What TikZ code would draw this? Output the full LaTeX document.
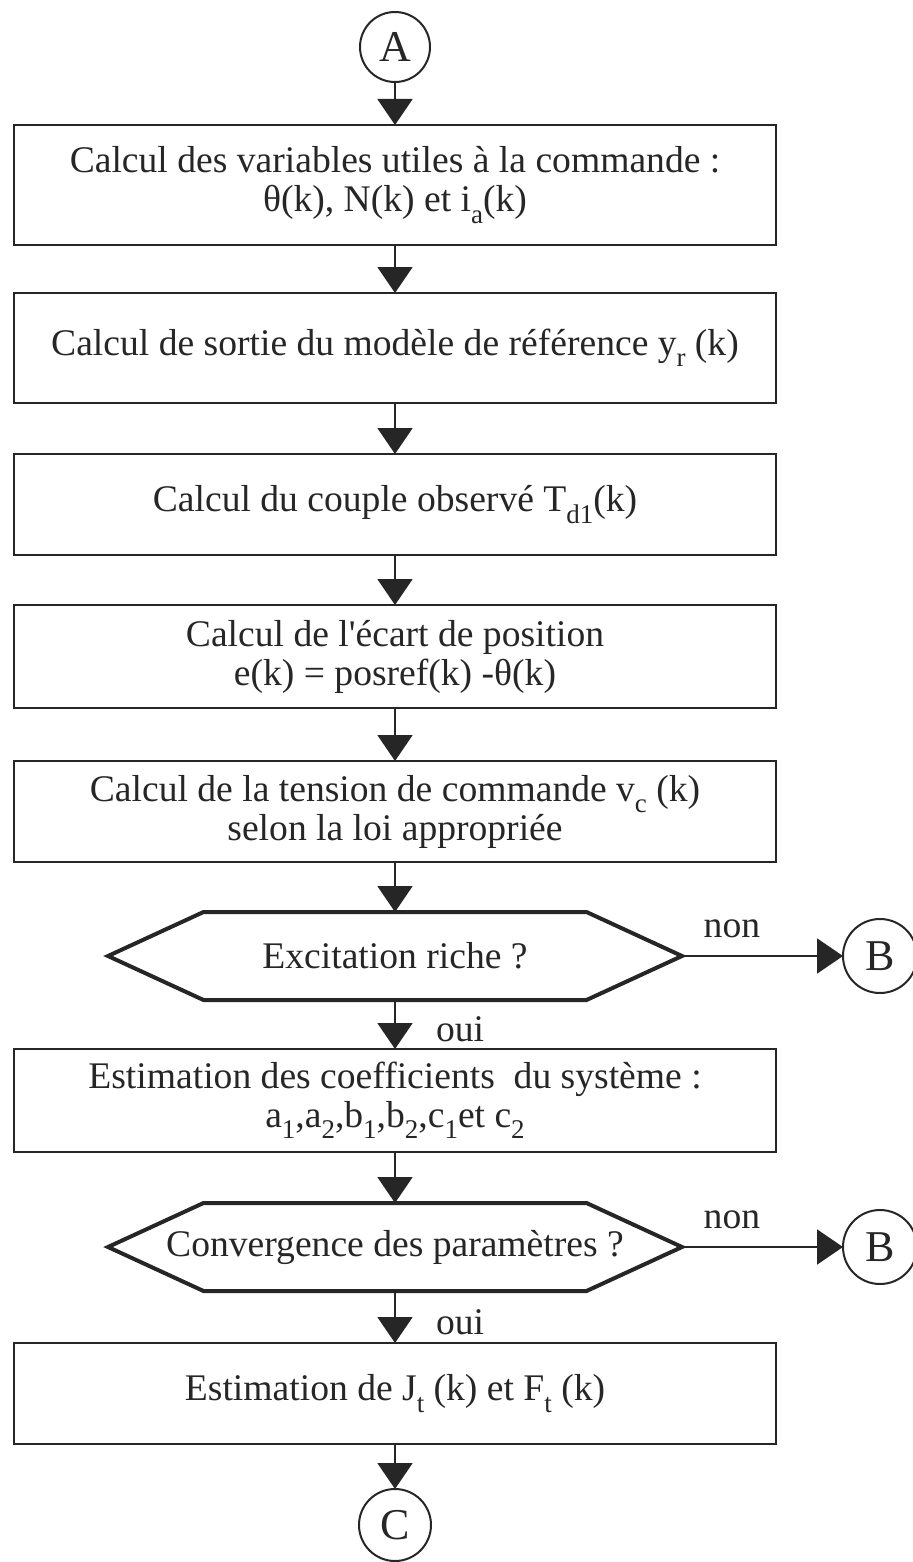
\documentclass[tikz,border=0pt]{standalone}
\usepackage{fontspec}
\setmainfont{Liberation Serif}
\usepackage{xcolor}
\usetikzlibrary{arrows.meta, positioning}
\definecolor{ink}{HTML}{262626}
\newcommand{\sbs}[1]{\raisebox{-0.3em}{\fontsize{13.5}{13.5}\selectfont #1}}

\begin{document}
\begin{tikzpicture}[
  font=\fontsize{18.8}{19.5}\selectfont,
  stepbox/.style={draw=ink, line width=1.4pt, minimum width=381pt, align=center, inner sep=0pt, outer sep=0pt, text=ink},
  choice/.style={minimum height=44pt, inner sep=0pt, outer sep=0pt, text=ink},
  hexline/.style={draw=ink, line width=2pt, line join=miter},
  conn/.style={circle, draw=ink, line width=1pt, minimum size=35pt, inner sep=0pt, outer sep=0pt, text=ink, font=\fontsize{22}{22}\selectfont},
  flow/.style={draw=ink, line width=1pt, -{Triangle[length=13pt, width=17.5pt]}},
  lbl/.style={inner sep=0pt, text=ink}
]
\useasboundingbox (0,0) rectangle (456pt,-781pt);
\node[conn] (A) at (197.5pt,-23.5pt) {A};
\node[stepbox, minimum height=60pt, below=21.5pt of A] (vars) {Calcul des variables utiles à la commande :\\ θ(k), N(k) et i\sbs{a}(k)};
\node[stepbox, minimum height=55pt, below=24pt of vars] (sortie) {Calcul de sortie du modèle de référence y\sbs{r} (k)};
\node[stepbox, minimum height=50.5pt, below=25.5pt of sortie] (couple) {Calcul du couple observé T\sbs{d1}(k)};
\node[stepbox, minimum height=51.5pt, below=25pt of couple] (ecart) {Calcul de l\textquotesingle écart de position\\ e(k) = posref(k) -θ(k)};
\node[stepbox, minimum height=50.5pt, below=26.5pt of ecart] (tension) {Calcul de la tension de commande v\sbs{c} (k)\\ selon la loi appropriée};
\node[choice, below=25pt of tension] (rich) {Excitation riche ?};
\node[stepbox, minimum height=51.5pt, below=24.5pt of rich] (coef) {Estimation des coefficients\ \ du système :\\ a\sbs{1},a\sbs{2},b\sbs{1},b\sbs{2},c\sbs{1}et c\sbs{2}};
\node[choice, below=25.5pt of coef] (conv) {Convergence des paramètres ?};
\node[stepbox, minimum height=50.5pt, below=26pt of conv] (estim) {Estimation de J\sbs{t} (k) et F\sbs{t} (k)};
\node[conn, minimum size=36pt, below=22.5pt of estim] (C) {C};

\foreach \d in {rich, conv} {
  \draw[hexline] ([shift={(-95.75pt,22pt)}]\d.center) -- ([shift={(95.75pt,22pt)}]\d.center)
    -- ([shift={(143.5pt,0pt)}]\d.center) -- ([shift={(95.75pt,-22pt)}]\d.center)
    -- ([shift={(-95.75pt,-22pt)}]\d.center) -- ([shift={(-143.5pt,0pt)}]\d.center) -- cycle;
  \coordinate (\d-tip) at ([xshift=143.5pt]\d.center);
}
\node[conn, minimum size=37pt, right=80.5pt of rich-tip] (B1) {B};
\node[conn, minimum size=37pt, right=80.5pt of conv-tip] (B2) {B};

\draw[flow] (A) -- (vars);
\draw[flow] (vars) -- (sortie);
\draw[flow] (sortie) -- (couple);
\draw[flow] (couple) -- (ecart);
\draw[flow] (ecart) -- (tension);
\draw[flow] (tension) -- (rich);
\draw[flow] (rich) -- node[lbl, pos=0.6, right=20pt] {oui} (coef);
\draw[flow] (coef) -- (conv);
\draw[flow] (conv) -- node[lbl, pos=0.6, right=20pt] {oui} (estim);
\draw[flow] (estim) -- (C);
\draw[flow] (rich-tip) -- node[lbl, pos=0.31, above=8.5pt] {non} (B1);
\draw[flow] (conv-tip) -- node[lbl, pos=0.31, above=8.5pt] {non} (B2);
\end{tikzpicture}
\end{document}
